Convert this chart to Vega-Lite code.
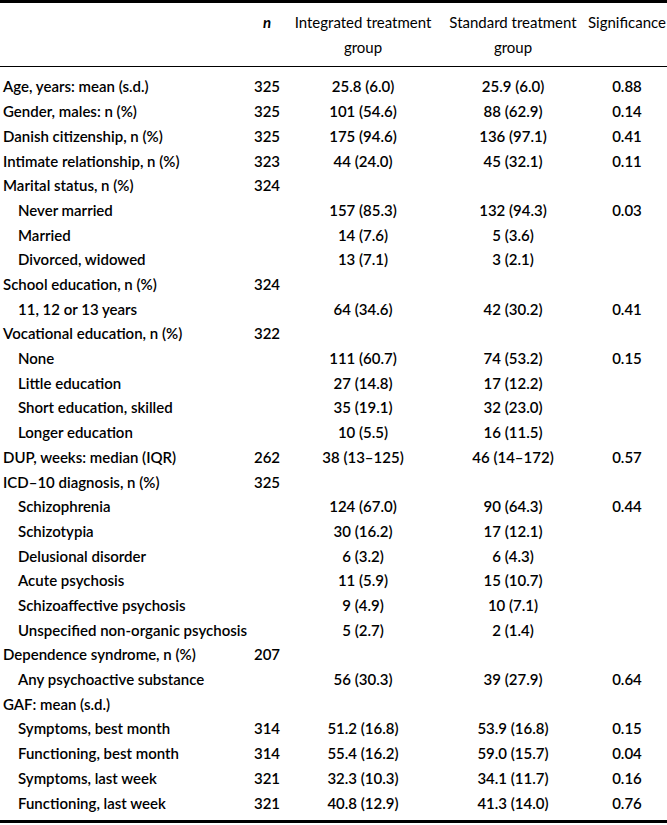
{
  "$schema": "https://vega.github.io/schema/vega-lite/v6.json",
  "width": 667,
  "height": 825,
  "autosize": {"type": "none"},
  "padding": 0,
  "background": "white",
  "config": {"view": {"stroke": null}, "text": {"font": "Lato", "fontSize": 15, "color": "#000", "fontWeight": 600}},
  "datasets": {
    "rows": [
      {"row": 1, "label": "Age, years: mean (s.d.)", "level": 0, "n": "325", "itg": "25.8 (6.0)", "std": "25.9 (6.0)", "sig": "0.88"},
      {"row": 2, "label": "Gender, males: n (%)", "level": 0, "n": "325", "itg": "101 (54.6)", "std": "88 (62.9)", "sig": "0.14"},
      {"row": 3, "label": "Danish citizenship, n (%)", "level": 0, "n": "325", "itg": "175 (94.6)", "std": "136 (97.1)", "sig": "0.41"},
      {"row": 4, "label": "Intimate relationship, n (%)", "level": 0, "n": "323", "itg": "44 (24.0)", "std": "45 (32.1)", "sig": "0.11"},
      {"row": 5, "label": "Marital status, n (%)", "level": 0, "n": "324"},
      {"row": 6, "label": "Never married", "level": 1, "itg": "157 (85.3)", "std": "132 (94.3)", "sig": "0.03"},
      {"row": 7, "label": "Married", "level": 1, "itg": "14 (7.6)", "std": "5 (3.6)"},
      {"row": 8, "label": "Divorced, widowed", "level": 1, "itg": "13 (7.1)", "std": "3 (2.1)"},
      {"row": 9, "label": "School education, n (%)", "level": 0, "n": "324"},
      {"row": 10, "label": "11, 12 or 13 years", "level": 1, "itg": "64 (34.6)", "std": "42 (30.2)", "sig": "0.41"},
      {"row": 11, "label": "Vocational education, n (%)", "level": 0, "n": "322"},
      {"row": 12, "label": "None", "level": 1, "itg": "111 (60.7)", "std": "74 (53.2)", "sig": "0.15"},
      {"row": 13, "label": "Little education", "level": 1, "itg": "27 (14.8)", "std": "17 (12.2)"},
      {"row": 14, "label": "Short education, skilled", "level": 1, "itg": "35 (19.1)", "std": "32 (23.0)"},
      {"row": 15, "label": "Longer education", "level": 1, "itg": "10 (5.5)", "std": "16 (11.5)"},
      {"row": 16, "label": "DUP, weeks: median (IQR)", "level": 0, "n": "262", "itg": "38 (13–125)", "std": "46 (14–172)", "sig": "0.57"},
      {"row": 17, "label": "ICD–10 diagnosis, n (%)", "level": 0, "n": "325"},
      {"row": 18, "label": "Schizophrenia", "level": 1, "itg": "124 (67.0)", "std": "90 (64.3)", "sig": "0.44"},
      {"row": 19, "label": "Schizotypia", "level": 1, "itg": "30 (16.2)", "std": "17 (12.1)"},
      {"row": 20, "label": "Delusional disorder", "level": 1, "itg": "6 (3.2)", "std": "6 (4.3)"},
      {"row": 21, "label": "Acute psychosis", "level": 1, "itg": "11 (5.9)", "std": "15 (10.7)"},
      {"row": 22, "label": "Schizoaffective psychosis", "level": 1, "itg": "9 (4.9)", "std": "10 (7.1)"},
      {"row": 23, "label": "Unspecified non-organic psychosis", "level": 1, "itg": "5 (2.7)", "std": "2 (1.4)"},
      {"row": 24, "label": "Dependence syndrome, n (%)", "level": 0, "n": "207"},
      {"row": 25, "label": "Any psychoactive substance", "level": 1, "itg": "56 (30.3)", "std": "39 (27.9)", "sig": "0.64"},
      {"row": 26, "label": "GAF: mean (s.d.)", "level": 0},
      {"row": 27, "label": "Symptoms, best month", "level": 1, "n": "314", "itg": "51.2 (16.8)", "std": "53.9 (16.8)", "sig": "0.15"},
      {"row": 28, "label": "Functioning, best month", "level": 1, "n": "314", "itg": "55.4 (16.2)", "std": "59.0 (15.7)", "sig": "0.04"},
      {"row": 29, "label": "Symptoms, last week", "level": 1, "n": "321", "itg": "32.3 (10.3)", "std": "34.1 (11.7)", "sig": "0.16"},
      {"row": 30, "label": "Functioning, last week", "level": 1, "n": "321", "itg": "40.8 (12.9)", "std": "41.3 (14.0)", "sig": "0.76"}
    ],
    "header": [
      {"row": -1.6, "col": 2, "text": "Integrated treatment"},
      {"row": -0.6, "col": 2, "text": "group"},
      {"row": -1.6, "col": 3, "text": "Standard treatment"},
      {"row": -0.6, "col": 3, "text": "group"},
      {"row": -1.6, "col": 4, "text": "Significance"}
    ],
    "headerN": [
      {"row": -1.6, "col": 1, "text": "n"}
    ],
    "rules": [
      {"row": -2.48, "kind": "thick"},
      {"row": 0.15, "kind": "thin"},
      {"row": 30.73, "kind": "thick"}
    ]
  },
  "resolve": {"scale": {"x": "independent"}},
  "layer": [
    {
      "data": {"name": "rules"},
      "mark": {"type": "rule", "color": "#000"},
      "encoding": {
        "y": {"field": "row", "type": "quantitative", "scale": {"domain": [-2.543, 30.87], "range": [0, 825]}, "axis": null},
        "strokeWidth": {"field": "kind", "type": "nominal", "scale": {"domain": ["thick", "thin"], "range": [3, 1.2]}, "legend": null}
      }
    },
    {
      "data": {"name": "rows"},
      "mark": {"type": "text", "align": "left", "baseline": "middle"},
      "encoding": {
        "y": {"field": "row", "type": "quantitative", "scale": {"domain": [-2.543, 30.87], "range": [0, 825]}, "axis": null},
        "x": {"field": "level", "type": "quantitative", "scale": {"domain": [0, 1], "range": [3, 18]}, "axis": null},
        "text": {"field": "label"}
      }
    },
    {
      "data": {"name": "rows"},
      "transform": [{"filter": "isValid(datum.n)"}],
      "mark": {"type": "text", "align": "center", "baseline": "middle"},
      "encoding": {
        "y": {"field": "row", "type": "quantitative", "scale": {"domain": [-2.543, 30.87], "range": [0, 825]}, "axis": null},
        "x": {"datum": 1, "type": "quantitative", "scale": {"domain": [1, 2, 3, 4], "range": [267, 363, 513, 627]}, "axis": null},
        "text": {"field": "n"}
      }
    },
    {
      "data": {"name": "rows"},
      "transform": [{"filter": "isValid(datum.itg)"}],
      "mark": {"type": "text", "align": "center", "baseline": "middle"},
      "encoding": {
        "y": {"field": "row", "type": "quantitative", "scale": {"domain": [-2.543, 30.87], "range": [0, 825]}, "axis": null},
        "x": {"datum": 2, "type": "quantitative", "scale": {"domain": [1, 2, 3, 4], "range": [267, 363, 513, 627]}, "axis": null},
        "text": {"field": "itg"}
      }
    },
    {
      "data": {"name": "rows"},
      "transform": [{"filter": "isValid(datum.std)"}],
      "mark": {"type": "text", "align": "center", "baseline": "middle"},
      "encoding": {
        "y": {"field": "row", "type": "quantitative", "scale": {"domain": [-2.543, 30.87], "range": [0, 825]}, "axis": null},
        "x": {"datum": 3, "type": "quantitative", "scale": {"domain": [1, 2, 3, 4], "range": [267, 363, 513, 627]}, "axis": null},
        "text": {"field": "std"}
      }
    },
    {
      "data": {"name": "rows"},
      "transform": [{"filter": "isValid(datum.sig)"}],
      "mark": {"type": "text", "align": "center", "baseline": "middle"},
      "encoding": {
        "y": {"field": "row", "type": "quantitative", "scale": {"domain": [-2.543, 30.87], "range": [0, 825]}, "axis": null},
        "x": {"datum": 4, "type": "quantitative", "scale": {"domain": [1, 2, 3, 4], "range": [267, 363, 513, 627]}, "axis": null},
        "text": {"field": "sig"}
      }
    },
    {
      "data": {"name": "header"},
      "mark": {"type": "text", "align": "center", "baseline": "middle", "fontWeight": "normal"},
      "encoding": {
        "y": {"field": "row", "type": "quantitative", "scale": {"domain": [-2.543, 30.87], "range": [0, 825]}, "axis": null},
        "x": {"field": "col", "type": "quantitative", "scale": {"domain": [1, 2, 3, 4], "range": [267, 363, 513, 627]}, "axis": null},
        "text": {"field": "text"}
      }
    },
    {
      "data": {"name": "headerN"},
      "mark": {"type": "text", "align": "center", "baseline": "middle", "fontWeight": "bold", "fontStyle": "italic"},
      "encoding": {
        "y": {"field": "row", "type": "quantitative", "scale": {"domain": [-2.543, 30.87], "range": [0, 825]}, "axis": null},
        "x": {"field": "col", "type": "quantitative", "scale": {"domain": [1, 2, 3, 4], "range": [267, 363, 513, 627]}, "axis": null},
        "text": {"field": "text"}
      }
    }
  ]
}
